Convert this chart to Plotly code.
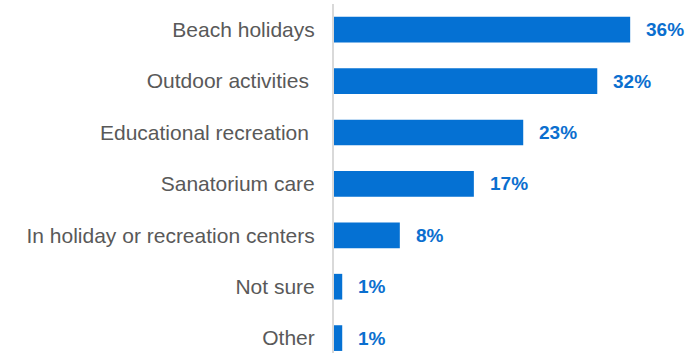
import plotly.graph_objects as go

# Preferred holiday types (share of respondents, %)
categories = [
    "Beach holidays",
    "Outdoor activities\u00a0",
    "Educational recreation\u00a0",
    "Sanatorium care",
    "In holiday or recreation centers",
    "Not sure",
    "Other",
]
values = [36, 32, 23, 17, 8, 1, 1]
value_labels = [f"{v}%" for v in values]

BAR_COLOR = "#0571D3"
LABEL_COLOR = "#0B6FCF"
TEXT_COLOR = "#595959"

fig = go.Figure(
    go.Bar(
        x=values,
        y=categories,
        orientation="h",
        width=0.5,
        marker=dict(color=BAR_COLOR, line=dict(width=0)),
        hoverinfo="skip",
    )
)

for cat, v, lab in zip(categories, values, value_labels):
    fig.add_annotation(
        x=v,
        y=cat,
        text=f"<b>{lab}</b>",
        showarrow=False,
        xanchor="left",
        yanchor="middle",
        xshift=14,
        font=dict(family="Liberation Sans, Arial, sans-serif", size=19, color=LABEL_COLOR),
    )

fig.update_layout(
    width=696,
    height=353,
    margin=dict(l=334, r=0, t=4, b=0),
    plot_bgcolor="white",
    paper_bgcolor="white",
    showlegend=False,
    bargap=0.5,
)

fig.update_xaxes(
    range=[0, 44],
    showgrid=False,
    zeroline=False,
    showticklabels=False,
    showline=False,
    fixedrange=True,
)

fig.update_yaxes(
    type="category",
    categoryorder="array",
    categoryarray=categories,
    range=[6.29, -0.5],
    showgrid=False,
    zeroline=False,
    showline=True,
    linecolor="#D9D9D9",
    linewidth=2,
    ticks="",
    ticklabelstandoff=13,
    tickfont=dict(family="Liberation Sans, Arial, sans-serif", size=21, color=TEXT_COLOR),
    fixedrange=True,
)

fig.write_html("out.html")
